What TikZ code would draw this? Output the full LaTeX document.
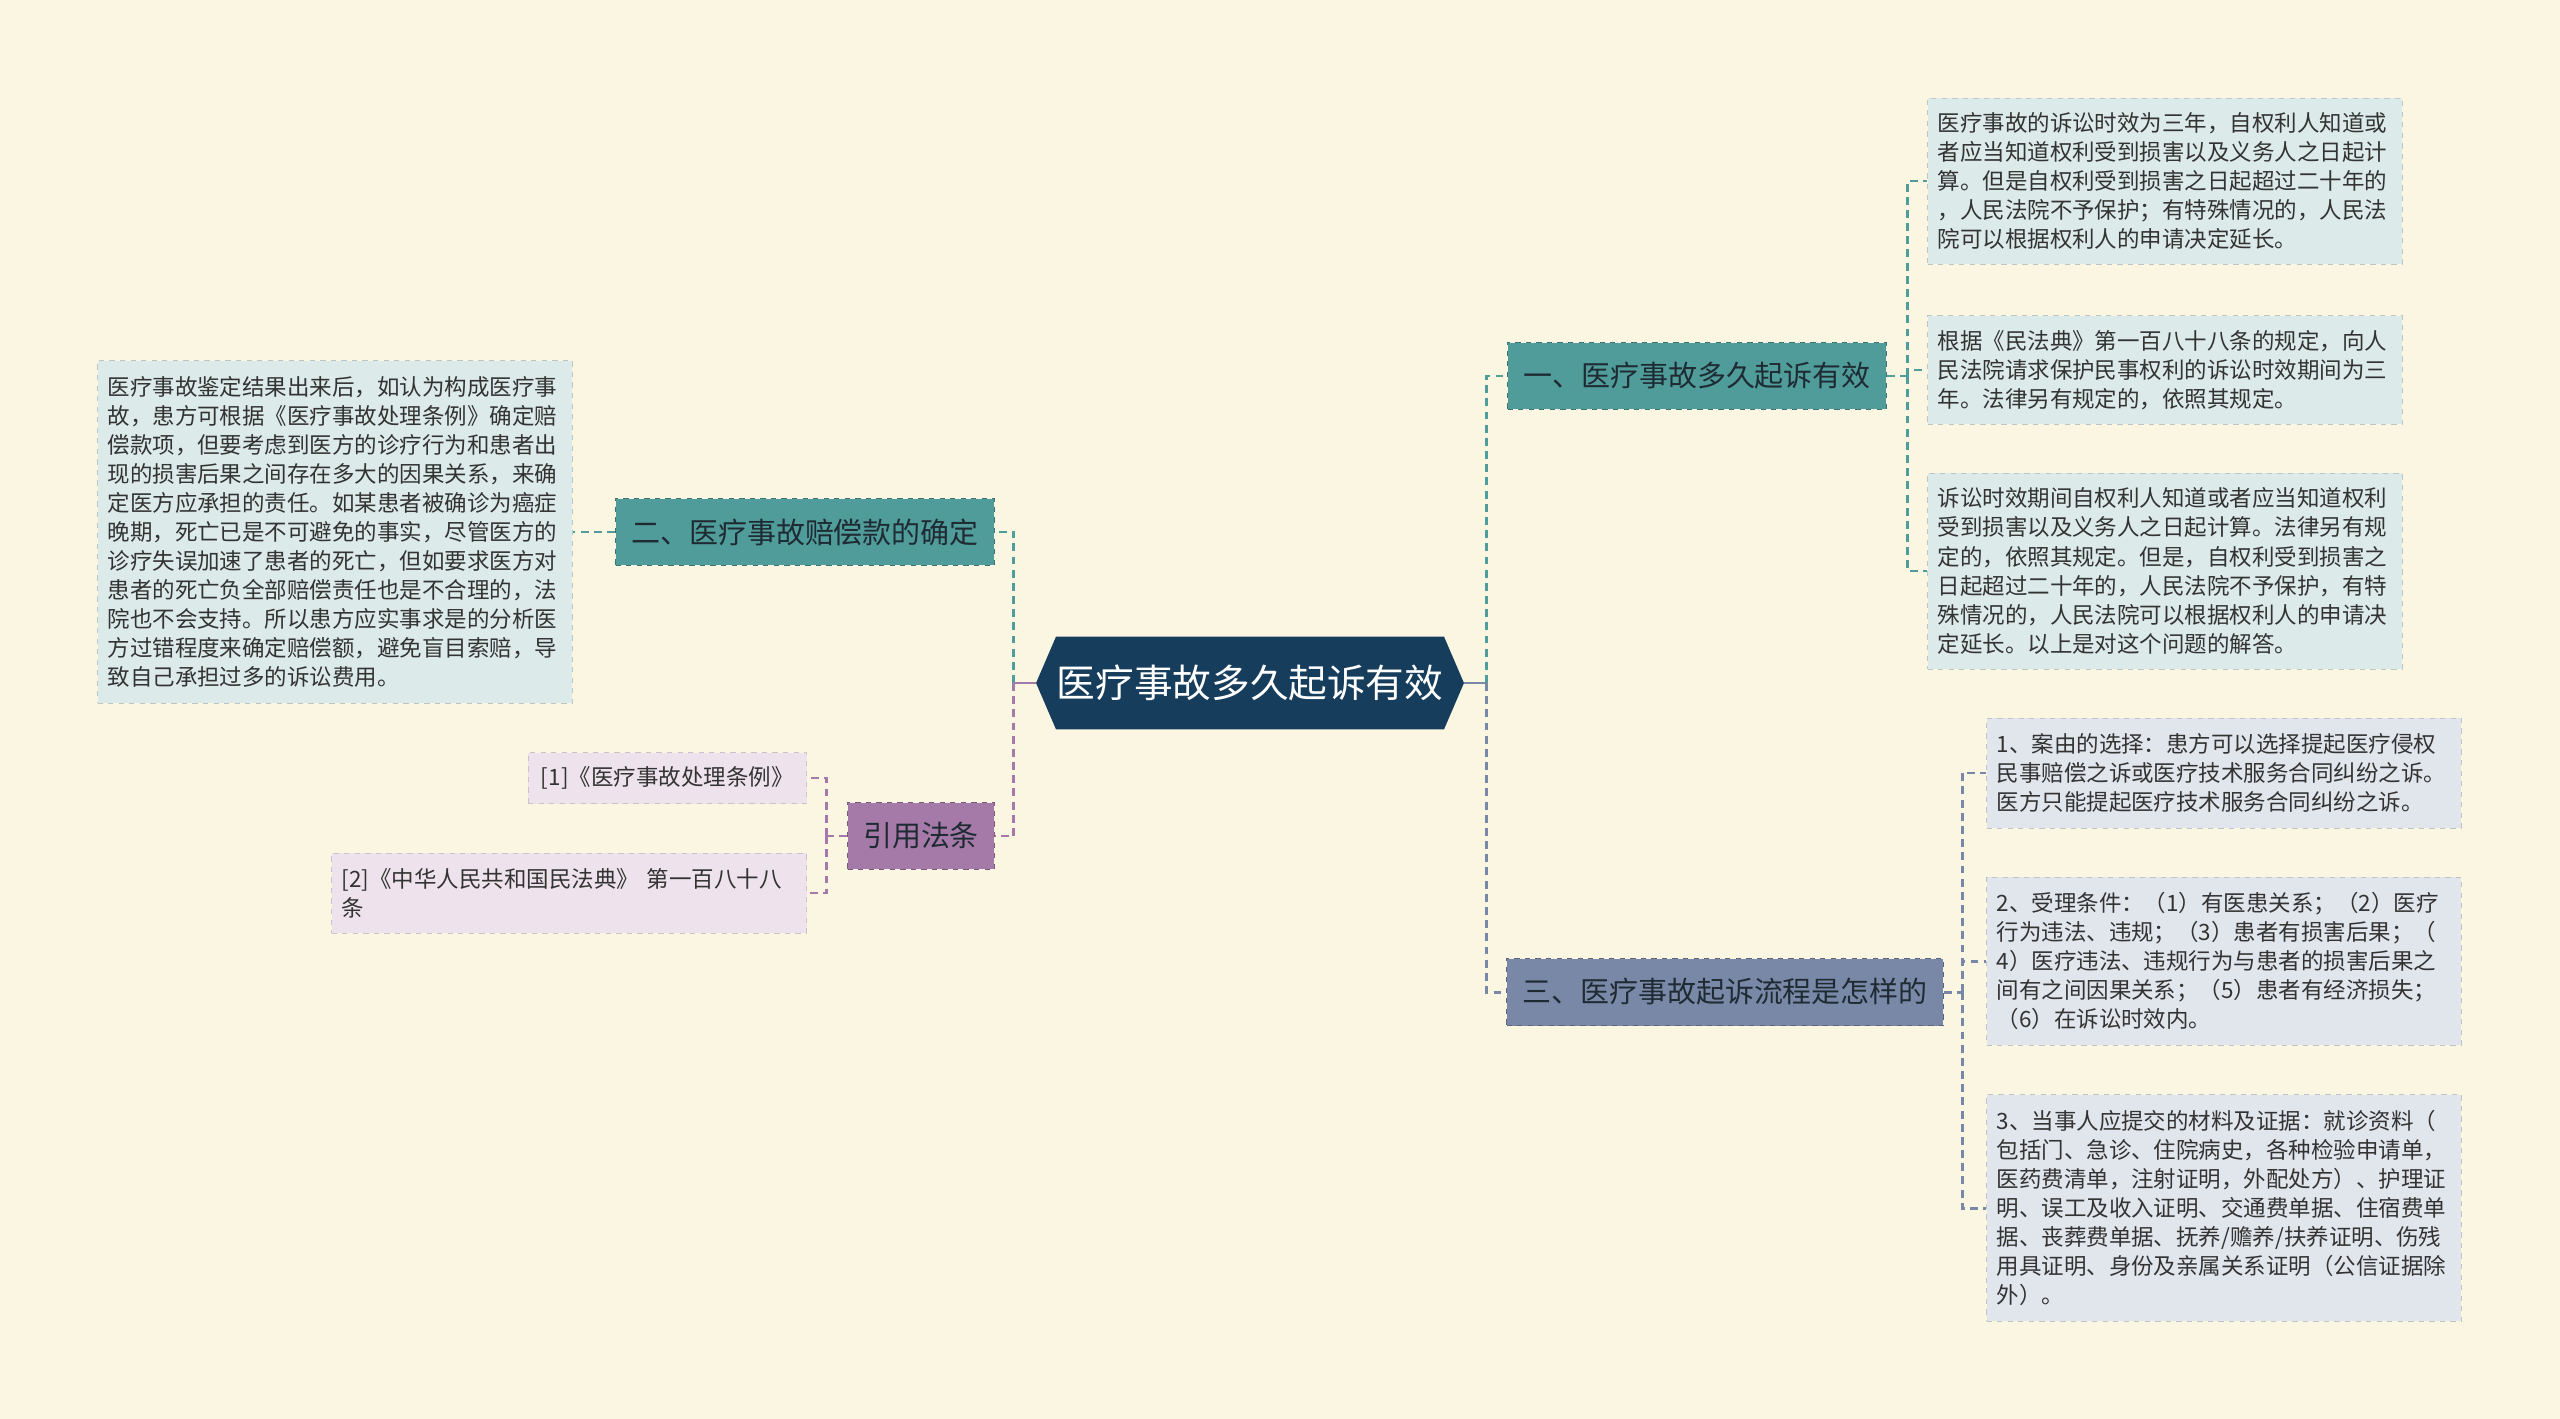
\documentclass[tikz,border=0pt]{standalone}
\usepackage{fontspec}
\setmainfont{Noto Sans CJK SC}
\usepackage{tikz}
\definecolor{paper}{HTML}{FBF6E1}
\definecolor{rootblue}{HTML}{173D5C}
\definecolor{tealbr}{HTML}{4F9C9A}
\definecolor{slatebr}{HTML}{7A88A8}
\definecolor{plumbr}{HTML}{A67AA8}
\definecolor{tealleaf}{HTML}{DCEAE9}
\definecolor{slateleaf}{HTML}{E1E5EC}
\definecolor{plumleaf}{HTML}{EEE3EC}
\definecolor{inktext}{HTML}{333333}
\definecolor{branchtext}{HTML}{1F2B33}
\tikzstyle{root} = [rectangle, minimum width = 8.56cm, minimum height = 1.86cm, inner sep = 0pt, text = white, font = \fontsize{22}{26}\selectfont,
    path picture = {\fill [rootblue] (path picture bounding box.west) -- ([xshift = 0.4cm]path picture bounding box.north west) -- ([xshift = -0.4cm]path picture bounding box.north east) -- (path picture bounding box.east) -- ([xshift = -0.4cm]path picture bounding box.south east) -- ([xshift = 0.4cm]path picture bounding box.south west) -- cycle;}]
\tikzstyle{branch} = [rectangle, draw, dashed, line width = 0.7pt, minimum height = 1.34cm, inner xsep = 0.31cm, text = branchtext, font = \fontsize{16.5}{20}\selectfont]
\tikzstyle{leaf} = [rectangle, draw, dashed, line width = 0.5pt, inner xsep = 0.2cm, inner ysep = 0.22cm, text width = 9.1cm, align = left, text = inktext, font = \fontsize{12.8}{16.55}\selectfont]
\tikzstyle{link} = [line width = 1.7pt, dash pattern = on 4.5pt off 3pt]

\begin{document}
\begin{tikzpicture}[x = 0.02cm, y = -0.02cm]
    \fill [paper] (0, 0) rectangle (2560, 1419);
    \useasboundingbox (0, 0) rectangle (2560, 1419);

    \node (root) at (1250, 683) [root] {医疗事故多久起诉有效};

    \node (b1) at (1697, 376) [branch, fill = tealbr, draw = tealbr!75!black] {一、医疗事故多久起诉有效};
    \node (b2) at (805, 532) [branch, fill = tealbr, draw = tealbr!75!black] {二、医疗事故赔偿款的确定};
    \node (b3) at (1725, 992) [branch, fill = slatebr, draw = slatebr!75!black] {三、医疗事故起诉流程是怎样的};
    \node (ref) at (921, 836) [branch, fill = plumbr, draw = plumbr!75!black] {引用法条};

    \node (l1a) at (2165, 181) [leaf, fill = tealleaf, draw = tealleaf!85!black, minimum height = 3.32cm] {医疗事故的诉讼时效为三年，自权利人知道或\\者应当知道权利受到损害以及义务人之日起计\\算。但是自权利受到损害之日起超过二十年的\\，人民法院不予保护；有特殊情况的，人民法\\院可以根据权利人的申请决定延长。};
    \node (l1b) at (2165, 370) [leaf, fill = tealleaf, draw = tealleaf!85!black, minimum height = 2.18cm] {根据《民法典》第一百八十八条的规定，向人\\民法院请求保护民事权利的诉讼时效期间为三\\年。法律另有规定的，依照其规定。};
    \node (l1c) at (2165, 571) [leaf, fill = tealleaf, draw = tealleaf!85!black, minimum height = 3.92cm] {诉讼时效期间自权利人知道或者应当知道权利\\受到损害以及义务人之日起计算。法律另有规\\定的，依照其规定。但是，自权利受到损害之\\日起超过二十年的，人民法院不予保护，有特\\殊情况的，人民法院可以根据权利人的申请决\\定延长。以上是对这个问题的解答。};

    \node (l2) at (335, 532) [leaf, fill = tealleaf, draw = tealleaf!85!black, minimum height = 6.86cm] {医疗事故鉴定结果出来后，如认为构成医疗事\\故，患方可根据《医疗事故处理条例》确定赔\\偿款项，但要考虑到医方的诊疗行为和患者出\\现的损害后果之间存在多大的因果关系，来确\\定医方应承担的责任。如某患者被确诊为癌症\\晚期，死亡已是不可避免的事实，尽管医方的\\诊疗失误加速了患者的死亡，但如要求医方对\\患者的死亡负全部赔偿责任也是不合理的，法\\院也不会支持。所以患方应实事求是的分析医\\方过错程度来确定赔偿额，避免盲目索赔，导\\致自己承担过多的诉讼费用。};

    \node (l3a) at (2224, 773) [leaf, fill = slateleaf, draw = slateleaf!85!black, minimum height = 2.2cm] {1、案由的选择：患方可以选择提起医疗侵权\\民事赔偿之诉或医疗技术服务合同纠纷之诉。\\医方只能提起医疗技术服务合同纠纷之诉。};
    \node (l3b) at (2224, 961) [leaf, fill = slateleaf, draw = slateleaf!85!black, minimum height = 3.36cm] {2、受理条件：（1）有医患关系；（2）医疗\\行为违法、违规；（3）患者有损害后果；（\\4）医疗违法、违规行为与患者的损害后果之\\间有之间因果关系；（5）患者有经济损失；\\（6）在诉讼时效内。};
    \node (l3c) at (2224, 1208) [leaf, fill = slateleaf, draw = slateleaf!85!black, minimum height = 4.54cm] {3、当事人应提交的材料及证据：就诊资料（\\包括门、急诊、住院病史，各种检验申请单，\\医药费清单，注射证明，外配处方）、护理证\\明、误工及收入证明、交通费单据、住宿费单\\据、丧葬费单据、抚养/赡养/扶养证明、伤残\\用具证明、身份及亲属关系证明（公信证据除\\外）。};

    \node (r1) at (807, 778) [leaf, anchor = east, text width = {}, fill = plumleaf, draw = plumleaf!85!black, minimum height = 1.02cm, inner xsep = 0.26cm] {[1]《医疗事故处理条例》};
    \node (r2) at (807, 893) [leaf, anchor = east, fill = plumleaf, draw = plumleaf!85!black, minimum height = 1.6cm] {[2]《中华人民共和国民法典》 第一百八十八\\条};

    \coordinate (rj) at ([xshift = 0.44cm]root.east);
    \coordinate (lj) at ([xshift = -0.44cm]root.west);
    \coordinate (j1) at ([xshift = 0.4cm]b1.east);
    \coordinate (j3) at ([xshift = 0.36cm]b3.east);
    \coordinate (jr) at ([xshift = -0.4cm]ref.west);

    \draw [link, tealbr] (rj) |- (b1.west);
    \draw [link, slatebr] (rj) |- (b3.west);
    \draw [line width = 1.7pt, slatebr] (root.east) -- (rj);
    \draw [link, tealbr] (lj) |- (b2.east);
    \draw [link, plumbr] (lj) |- (ref.east);
    \draw [line width = 1.7pt, plumbr] (root.west) -- (lj);

    \draw [link, tealbr] (b1.east) -- (j1);
    \draw [link, tealbr] (j1) |- (l1a.west);
    \draw [link, tealbr] (j1) |- (l1b.west);
    \draw [link, tealbr] (j1) |- (l1c.west);

    \draw [link, tealbr] (b2.west) -- (l2.east);

    \draw [link, slatebr] (b3.east) -- (j3);
    \draw [link, slatebr] (j3) |- (l3a.west);
    \draw [link, slatebr] (j3) |- (l3b.west);
    \draw [link, slatebr] (j3) |- (l3c.west);

    \draw [link, plumbr] (ref.west) -- (jr);
    \draw [link, plumbr] (jr) |- (r1.east);
    \draw [link, plumbr] (jr) |- (r2.east);
\end{tikzpicture}
\end{document}
